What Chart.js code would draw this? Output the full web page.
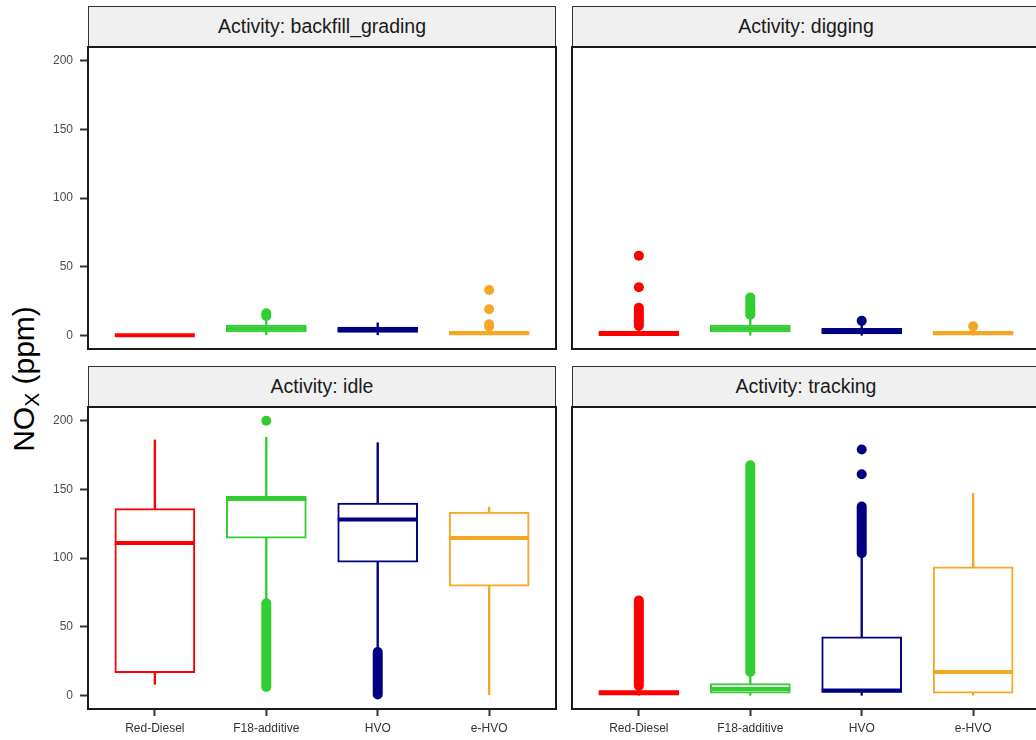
<!DOCTYPE html>
<html>
<head>
<meta charset="utf-8">
<title>NOx by activity and fuel</title>
<script src="https://cdn.jsdelivr.net/npm/chart.js@4.4.1/dist/chart.umd.min.js"></script>
<style>
  html, body { margin: 0; padding: 0; background: #ffffff; overflow: hidden; }
  #page { position: relative; width: 1036px; height: 740px; overflow: hidden;
          font-family: "Liberation Sans", Arial, sans-serif; }
  canvas { position: absolute; display: block; }
  .strip { position: absolute; box-sizing: border-box; height: 41px; background: #f0f0f0;
           border: 1.5px solid #333333; display: flex; align-items: center; justify-content: center;
           font-size: 19.5px; color: #1a1a1a; white-space: nowrap; }
  #ytitle { position: absolute; left: 24px; top: 379px; transform: translate(-50%, -50%) rotate(-90deg);
            font-size: 30px; color: #000000; white-space: nowrap; line-height: 1; }
  #ytitle sub { font-size: 0.7em; vertical-align: baseline; position: relative; top: 0.22em; }
</style>
</head>
<body>
<div id="page">
  <div id="ytitle">NO<sub>X</sub> (ppm)</div>
  <div class="strip" style="left:88px; top:6px; width:468px;">Activity: backfill_grading</div>
  <div class="strip" style="left:572px; top:6px; width:468px;">Activity: digging</div>
  <div class="strip" style="left:88px; top:366px; width:468px;">Activity: idle</div>
  <div class="strip" style="left:572px; top:366px; width:468px;">Activity: tracking</div>
  <canvas id="c0" width="530" height="306" style="left:28px; top:45px;"></canvas>
  <canvas id="c1" width="473" height="306" style="left:570px; top:45px;"></canvas>
  <canvas id="c2" width="530" height="335" style="left:28px; top:405px;"></canvas>
  <canvas id="c3" width="473" height="335" style="left:570px; top:405px;"></canvas>
</div>
<script>
// Fuels on the x axis and their colours
const categories = ['Red-Diesel', 'F18-additive', 'HVO', 'e-HVO'];
const fuelColors = ['#ff0000', '#32cd32', '#000080', '#f5a623'];
// Facets (one panel per activity)
const activities = ['backfill_grading', 'digging', 'idle', 'tracking'];
const yTicks = [0, 50, 100, 150, 200];

// Box-plot statistics in ppm: one row per activity, one column per fuel
const lowerWhisker = [
  [0, 0, 0, 0],
  [0, 0, 0, 0],
  [8, 70, 34, 0],
  [0, 0, 0, 0]
];
const q1 = [
  [0, 2.5, 2, 0.5],
  [0, 2.5, 1, 0.5],
  [16.5, 114.5, 97, 79.5],
  [0, 1.5, 2, 1.5]
];
const medians = [
  [0, 5, 4, 1.5],
  [1, 5, 3, 1.5],
  [111, 143, 128, 114.5],
  [2, 4.5, 3.5, 17]
];
const q3 = [
  [0, 7.5, 6, 3],
  [3, 7.5, 5, 3],
  [136, 145, 140, 133.5],
  [3.5, 8.5, 42.5, 93.5]
];
const upperWhisker = [
  [0, 12, 9, 5],
  [6, 14, 8.5, 5],
  [186, 188, 184, 137],
  [6, 16, 101, 147]
];
// Isolated outliers: [fuel index, value]
const outliers = [
  [[1, 14], [1, 16], [3, 6.5], [3, 8], [3, 19], [3, 33]],
  [[0, 35], [0, 58], [2, 10.5], [3, 6.5]],
  [[1, 200]],
  [[2, 161], [2, 179]]
];
// Runs of overlapping outliers: [fuel index, lowest value, highest value]
const outlierRuns = [
  [],
  [[0, 7, 20], [1, 15, 27.5]],
  [[1, 6, 67], [2, 0.5, 31.5]],
  [[0, 7, 69], [1, 17, 167.5], [2, 103.5, 137.5]]
];

Chart.defaults.font.family = '"Liberation Sans", Arial, sans-serif';

// Black frame around each panel's plotting area
const panelFrame = {
  id: 'panelFrame',
  afterDatasetsDraw(chart) {
    const { ctx, chartArea: { left, top, right, bottom } } = chart;
    ctx.save();
    ctx.strokeStyle = '#1a1a1a';
    ctx.lineWidth = 2;
    ctx.strokeRect(left, top, right - left, bottom - top);
    ctx.restore();
  }
};

function buildDatasets(a) {
  const xs = categories.map((_, i) => i + 1);
  const sets = [];
  // boxes (Q1..Q3)
  sets.push({
    type: 'bar', order: 5, grouped: false,
    data: xs.map((x, i) => ({ x, y: [q1[a][i], q3[a][i]] })),
    backgroundColor: '#ffffff', borderColor: fuelColors, borderWidth: 2,
    borderSkipped: false, barThickness: 80
  });
  // whiskers
  sets.push({
    type: 'bar', order: 4, grouped: false,
    data: xs.map((x, i) => ({ x, y: [lowerWhisker[a][i], q1[a][i]] })),
    backgroundColor: fuelColors, borderWidth: 0, barThickness: 1.7
  });
  sets.push({
    type: 'bar', order: 4, grouped: false,
    data: xs.map((x, i) => ({ x, y: [q3[a][i], upperWhisker[a][i]] })),
    backgroundColor: fuelColors, borderWidth: 0, barThickness: 1.7
  });
  // medians
  sets.push({
    type: 'scatter', order: 1,
    data: xs.map((x, i) => ({ x, y: medians[a][i] })),
    pointStyle: 'line', radius: 40, borderColor: fuelColors, borderWidth: 4
  });
  // dense outlier runs
  outlierRuns[a].forEach(([f, lo, hi]) => {
    sets.push({
      type: 'line', order: 2,
      data: [{ x: f + 1, y: lo }, { x: f + 1, y: hi }],
      borderColor: fuelColors[f], borderWidth: 10, borderCapStyle: 'round',
      pointRadius: 0, fill: false
    });
  });
  // isolated outliers
  sets.push({
    type: 'scatter', order: 0,
    data: outliers[a].map(([f, v]) => ({ x: f + 1, y: v })),
    backgroundColor: outliers[a].map(([f]) => fuelColors[f]),
    radius: 5, borderWidth: 0
  });
  return sets;
}

function buildPanel(a) {
  const leftCol = a % 2 === 0;
  const bottomRow = a >= 2;
  const tickGrid = { drawOnChartArea: false, drawTicks: true, tickWidth: 2, tickColor: '#333333', offset: false };
  new Chart(document.getElementById('c' + a), {
    type: 'bar',
    data: { datasets: buildDatasets(a) },
    plugins: [panelFrame],
    options: {
      responsive: false,
      animation: false,
      events: [],
      layout: {
        autoPadding: false,
        padding: { left: leftCol ? 0 : 2, top: 2, right: leftCol ? 2 : 3, bottom: bottomRow ? 0 : 2 }
      },
      plugins: { legend: { display: false }, tooltip: { enabled: false }, title: { display: false } },
      scales: {
        x: {
          type: 'linear', min: 0.4, max: 4.6, offset: false, display: bottomRow,
          afterBuildTicks: s => { s.ticks = categories.map((_, i) => ({ value: i + 1 })); },
          afterFit: s => {
            s.paddingLeft = 0; s.paddingRight = 0;
            s.height = bottomRow ? 31 : 0;
          },
          ticks: { callback: v => categories[v - 1], color: '#333333', font: { size: 12 },
                   padding: 5, autoSkip: false, maxRotation: 0 },
          grid: Object.assign({ tickLength: 7 }, tickGrid),
          border: { display: false }
        },
        y: {
          type: 'linear', min: -10, max: 210, display: leftCol,
          afterBuildTicks: s => { s.ticks = yTicks.map(v => ({ value: v })); },
          afterFit: s => {
            s.paddingTop = 0; s.paddingBottom = 0;
            s.width = leftCol ? 60 : 0;
          },
          ticks: { color: '#4d4d4d', font: { size: 12 }, padding: 7 },
          grid: Object.assign({ tickLength: 8 }, tickGrid),
          border: { display: false }
        }
      }
    }
  });
}

activities.forEach((_, a) => buildPanel(a));
</script>
</body>
</html>
